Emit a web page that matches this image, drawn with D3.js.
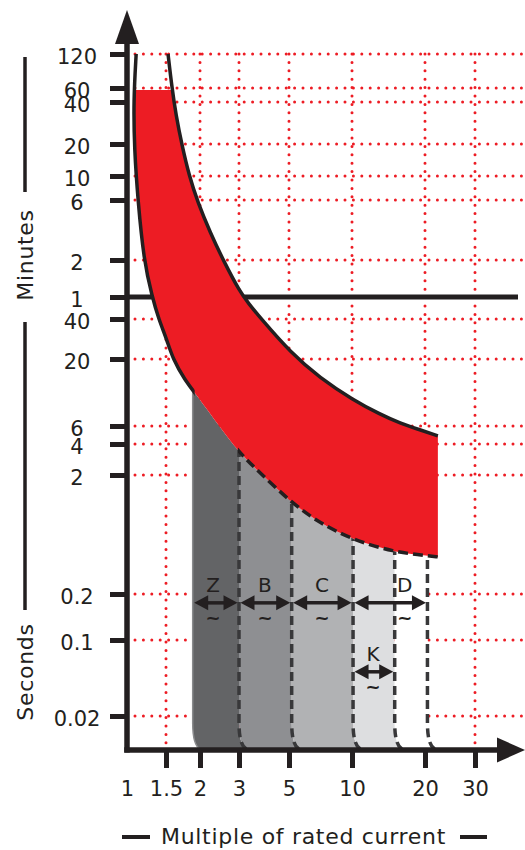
<!DOCTYPE html>
<html>
<head>
<meta charset="utf-8">
<script src="https://cdn.jsdelivr.net/npm/d3@7"></script>
<style>
  html, body { margin: 0; padding: 0; background: #fff; }
  svg { display: block; }
</style>
</head>
<body>
<svg id="chart" width="525" height="850"></svg>
<script>
// ---- Data: multiples of rated current and tripping times (seconds) ----
const xTicks = [1, 1.5, 2, 3, 5, 10, 20, 30];
const minuteTicks = [120, 60, 40, 20, 10, 6, 2, 1];
const secondTicks = [40, 20, 6, 4, 2, 0.2, 0.1, 0.02];

// Thermal release band limits: [multiple of In, seconds]
const upperCurve = [
  [1.526, 7200], [1.578, 3600], [1.632, 1940], [1.717, 1170], [1.822, 613],
  [1.966, 341], [2.22, 200], [2.567, 116], [3.03, 66], [3.29, 54], [3.8, 39.3],
  [5.06, 22.6], [7.03, 14.2], [10.1, 9.6], [13.05, 7.4], [15.8, 6.3],
  [19.1, 5.5], [22.2, 4.8]
];
const lowerCurve = [
  [1.10, 7200], [1.07, 2500], [1.08, 1050], [1.12, 360], [1.19, 120],
  [1.30, 60], [1.39, 40], [1.51, 28], [1.59, 20], [1.76, 13.7], [1.92, 10.8],
  [2.39, 6.3], [3, 3.3], [3.72, 2.1], [5.17, 1.16], [7, 0.79], [10.1, 0.57],
  [14.9, 0.45], [20.3, 0.42], [22.2, 0.41]
];
const thermalBandTop = 3400; // seconds

// Magnetic release ranges per characteristic
const tripNames   = ["Z", "B", "C", "D", "K"];
const tripFrom    = [1.88, 3, 5.15, 10.1, 10.1];
const tripTo      = [3, 5.15, 10.1, 20.4, 15];
const tripLabelAt = [2.29, 3.91, 7.19, 16.5, 12.2];
const tripRow     = [0, 0, 0, 0, 1];
const arrowRowSeconds = [0.175, 0.051];
const bandEdges = [1.88, 3, 5.15, 10.1, 15, 20.4];

// ---- Layout and styles ----
const W = 525, H = 850;
const ink = "#231f20", red = "#ed1c24";
const bandColors = ["#636466", "#8e8f92", "#b1b2b4", "#dddee0", "#ffffff"];
const font = "'DejaVu Sans', Verdana, sans-serif";
const xStopPx = [127, 166, 200, 239, 289, 352, 425, 475];
const yStopPx = [54, 88, 102, 144, 176, 200, 260, 297, 319, 359, 426, 444, 475, 594, 640, 716];
const yAxisPx = 750, xAxisLeft = 127;

// Non-uniform logarithmic scales (piecewise between labelled stops)
const yStopValues = minuteTicks.map(m => m * 60).concat(secondTicks);
const yTickLabels = minuteTicks.concat(secondTicks).map(String);
const xLin = d3.scaleLinear().domain(xTicks.map(Math.log10)).range(xStopPx);
const yLin = d3.scaleLinear().domain(yStopValues.map(Math.log10)).range(yStopPx);
const x = v => xLin(Math.log10(v));
const y = v => yLin(Math.log10(v));

const svg = d3.select("#chart");
const defs = svg.append("defs");

// ---- Dotted grid ----
const grid = svg.append("g")
  .attr("stroke", red).attr("stroke-width", 3)
  .attr("stroke-linecap", "round").attr("stroke-dasharray", "0 8.4")
  .attr("fill", "none");
yStopValues.filter(v => v !== 60).forEach(v => {
  grid.append("line").attr("x1", xAxisLeft + 8).attr("x2", 522)
    .attr("y1", y(v)).attr("y2", y(v));
});
xTicks.slice(1).forEach(v => {
  grid.append("line").attr("x1", x(v)).attr("x2", x(v))
    .attr("y1", y(yStopValues[0])).attr("y2", yAxisPx - 4);
});

// ---- Curve geometry ----
const curveGen = d3.line().curve(d3.curveBasis);
const upPts = upperCurve.map(([m, s]) => [x(m), y(s)]);
const loPts = lowerCurve.map(([m, s]) => [x(m), y(s)]);
const loEnd = loPts[loPts.length - 1];

// region between lower limit and the current axis
defs.append("clipPath").attr("id", "under").append("path")
  .attr("d", curveGen(loPts) + `L${loEnd[0] + 30},${yAxisPx}L${xAxisLeft},${yAxisPx}Z`);
defs.append("clipPath").attr("id", "bandTop").append("rect")
  .attr("x", 0).attr("y", y(thermalBandTop)).attr("width", W).attr("height", H);
defs.append("clipPath").attr("id", "solidPart").append("rect")
  .attr("x", 0).attr("y", 0).attr("width", x(bandEdges[0]) + 2).attr("height", H);
defs.append("clipPath").attr("id", "dashedPart").append("rect")
  .attr("x", x(bandEdges[1]) - 1).attr("y", 0).attr("width", W).attr("height", H);

// ---- Magnetic release bands ----
const bend = 27, rr = 11;
function edgeDown(px) {
  return `M${px},0L${px},${yAxisPx - bend}Q${px},${yAxisPx} ${px + rr},${yAxisPx}`;
}
function bandPath(xl, xr) {
  return `M${xl},0L${xl},${yAxisPx - bend}Q${xl},${yAxisPx} ${xl + rr},${yAxisPx}` +
         `L${xr + rr},${yAxisPx}Q${xr},${yAxisPx} ${xr},${yAxisPx - bend}L${xr},0Z`;
}
const bands = svg.append("g").attr("clip-path", "url(#under)");
bandEdges.slice(0, -1).forEach((e, i) => {
  bands.append("path").attr("d", bandPath(x(e), x(bandEdges[i + 1])))
    .attr("fill", bandColors[i]);
});
bands.append("path").attr("d", edgeDown(x(bandEdges[0])))
  .attr("fill", "none").attr("stroke", "#8a8b8d").attr("stroke-width", 1.5);
bandEdges.slice(1).forEach(e => {
  bands.append("path").attr("d", edgeDown(x(e)))
    .attr("fill", "none").attr("stroke", "#38383a").attr("stroke-width", 3.5)
    .attr("stroke-dasharray", "9 5");
});

// ---- 1 minute divider ----
svg.append("line").attr("x1", xAxisLeft).attr("x2", 518)
  .attr("y1", y(60)).attr("y2", y(60)).attr("stroke", ink).attr("stroke-width", 5);

// ---- Thermal band ----
svg.append("path")
  .attr("d", curveGen(upPts) + "L" + curveGen(loPts.slice().reverse()).slice(1) + "Z")
  .attr("fill", red).attr("clip-path", "url(#bandTop)");
svg.append("path").attr("d", curveGen(upPts))
  .attr("fill", "none").attr("stroke", ink).attr("stroke-width", 3.5);
svg.append("path").attr("d", curveGen(loPts)).attr("clip-path", "url(#solidPart)")
  .attr("fill", "none").attr("stroke", ink).attr("stroke-width", 3.5);
svg.append("path").attr("d", curveGen(loPts)).attr("clip-path", "url(#dashedPart)")
  .attr("fill", "none").attr("stroke", ink).attr("stroke-width", 3.5)
  .attr("stroke-dasharray", "10 5");

// ---- Axes ----
const yAxisG = svg.append("g").attr("transform", `translate(${xAxisLeft},0)`)
  .call(d3.axisLeft(yLin).tickValues(yStopValues.map(Math.log10))
    .tickFormat((d, i) => yTickLabels[i]).tickSize(17));
yAxisG.select(".domain").remove();
yAxisG.selectAll(".tick line").attr("stroke", ink).attr("stroke-width", 5);
yAxisG.selectAll(".tick text").attr("x", 77 - xAxisLeft).attr("dy", "0.44em")
  .attr("text-anchor", "middle").attr("fill", ink)
  .style("font-family", font).style("font-size", "21px");

const xAxisG = svg.append("g").attr("transform", `translate(0,${yAxisPx})`)
  .call(d3.axisBottom(xLin).tickValues(xTicks.map(Math.log10))
    .tickFormat((d, i) => xTicks[i]).tickSize(18));
xAxisG.select(".domain").remove();
xAxisG.selectAll(".tick line").attr("stroke", ink).attr("stroke-width", 5)
  .attr("opacity", (d, i) => i === 0 ? 0 : 1);
xAxisG.selectAll(".tick text").attr("y", 46).attr("dy", 0).attr("fill", ink)
  .style("font-family", font).style("font-size", "21px");

svg.append("line").attr("x1", xAxisLeft).attr("x2", xAxisLeft)
  .attr("y1", yAxisPx + 2.5).attr("y2", 40).attr("stroke", ink).attr("stroke-width", 5.5);
svg.append("path").attr("d", `M${xAxisLeft},10L${xAxisLeft - 12},44L${xAxisLeft + 12},44Z`).attr("fill", ink);
svg.append("line").attr("x1", xAxisLeft - 2.75).attr("x2", 500)
  .attr("y1", yAxisPx).attr("y2", yAxisPx).attr("stroke", ink).attr("stroke-width", 5.5);
svg.append("path").attr("d", `M525,${yAxisPx}L497,${yAxisPx - 12.5}L497,${yAxisPx + 12.5}Z`).attr("fill", ink);

// ---- Characteristic range arrows ----
const ann = svg.append("g").attr("fill", ink)
  .style("font-family", font);
function arrow(x1, x2, yy) {
  const h = 14, w = 7.5;
  ann.append("line").attr("x1", x1 + h - 2).attr("x2", x2 - h + 2)
    .attr("y1", yy).attr("y2", yy).attr("stroke", ink).attr("stroke-width", 3.5);
  ann.append("path").attr("d", `M${x1},${yy}L${x1 + h},${yy - w}L${x1 + h},${yy + w}Z`);
  ann.append("path").attr("d", `M${x2},${yy}L${x2 - h},${yy - w}L${x2 - h},${yy + w}Z`);
}
tripNames.forEach((name, i) => {
  const yy = y(arrowRowSeconds[tripRow[i]]);
  const x1 = x(tripFrom[i]) + 1.5, x2 = x(tripTo[i]) - 1.5;
  arrow(x1, x2, yy);
  const lx = x(tripLabelAt[i]);
  ann.append("text").attr("x", lx).attr("y", yy - 11).attr("text-anchor", "middle")
    .style("font-size", "20px").text(name);
  ann.append("text").attr("x", lx).attr("y", yy + 21).attr("text-anchor", "middle")
    .style("font-size", "18px").style("font-weight", "bold").text("~");
});

// ---- Axis titles ----
const titles = svg.append("g").style("font-family", font).style("font-size", "22px")
  .style("letter-spacing", "0.7px").attr("fill", ink);
titles.append("text").attr("transform", "translate(33,255) rotate(-90)")
  .attr("text-anchor", "middle").text("Minutes");
titles.append("text").attr("transform", "translate(33,672) rotate(-90)")
  .attr("text-anchor", "middle").text("Seconds");
titles.append("text").attr("x", 303.5).attr("y", 844)
  .attr("text-anchor", "middle").text("Multiple of rated current");
const rules = svg.append("g").attr("stroke", ink).attr("stroke-width", 3.5);
rules.append("line").attr("x1", 25).attr("x2", 25).attr("y1", 57).attr("y2", 192);
rules.append("line").attr("x1", 25).attr("x2", 25).attr("y1", 322).attr("y2", 610);
rules.append("line").attr("x1", 122).attr("x2", 150).attr("y1", 837).attr("y2", 837).attr("stroke-width", 4);
rules.append("line").attr("x1", 460).attr("x2", 487).attr("y1", 837).attr("y2", 837).attr("stroke-width", 4);
</script>
</body>
</html>
